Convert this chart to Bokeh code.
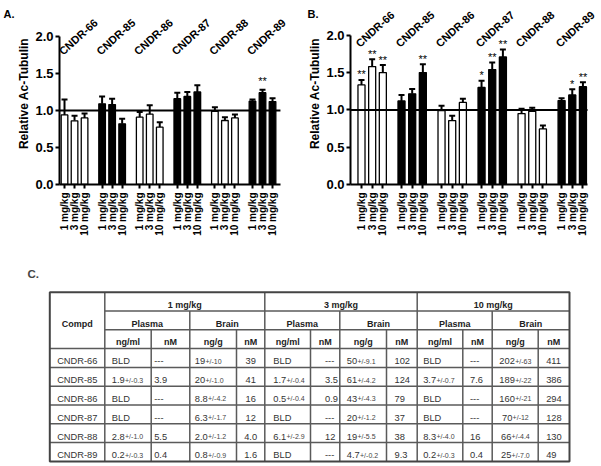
import math
from bokeh.plotting import figure
from bokeh.models import (Range1d, FixedTicker, Label, Whisker, TeeHead,
                          ColumnDataSource, NumeralTickFormatter, LinearAxis)
from bokeh.layouts import column, row
from bokeh.embed import file_html
from bokeh.resources import INLINE
from bokeh.core.properties import value

FONT = "Liberation Sans"

# ---------------- data ----------------
compounds = ["CNDR-66", "CNDR-85", "CNDR-86", "CNDR-87", "CNDR-88", "CNDR-89"]
doses = ["1 mg/kg", "3 mg/kg", "10 mg/kg"]
filled = [False, True, False, True, False, True]
reference_level = 1.0

# Panel A (values per compound x dose)
a_mean = [0.94, 0.86, 0.90, 1.09, 1.08, 0.82, 0.91, 0.95, 0.775,
          1.16, 1.19, 1.25, 0.99, 0.865, 0.90, 1.125, 1.24, 1.12]
a_err = [0.21, 0.07, 0.06, 0.10, 0.08, 0.07, 0.07, 0.12, 0.065,
         0.08, 0.06, 0.09, 0.055, 0.045, 0.045, 0.025, 0.04, 0.045]
a_sig = ["", "", "", "", "", "", "", "", "",
         "", "", "", "", "", "", "", "**", ""]

# Panel B
b_mean = [1.335, 1.58, 1.50, 1.12, 1.215, 1.50, 0.99, 0.856, 1.10,
          1.30, 1.54, 1.71, 0.95, 0.98, 0.745, 1.125, 1.20, 1.31]
b_err = [0.065, 0.10, 0.10, 0.08, 0.065, 0.11, 0.065, 0.065, 0.05,
         0.09, 0.095, 0.10, 0.065, 0.05, 0.045, 0.032, 0.077, 0.06]
b_sig = ["**", "**", "**", "", "", "**", "", "", "",
         "*", "**", "**", "", "", "", "", "*", "**"]

# Table C
dose_groups = ["1 mg/kg", "3 mg/kg", "10 mg/kg"]
tissues = ["Plasma", "Brain"]
units = ["ng/ml", "nM", "ng/g", "nM"]
plasma_1_ngml = ["BLD", "1.9+/-0.3", "BLD", "BLD", "2.8+/-1.0", "0.2+/-0.3"]
plasma_1_nM = ["---", "3.9", "---", "---", "5.5", "0.4"]
brain_1_ngg = ["19+/-10", "20+/-1.0", "8.8+/-4.2", "6.3+/-1.7", "2.0+/-1.2", "0.8+/-0.9"]
brain_1_nM = ["39", "41", "16", "12", "4.0", "1.6"]
plasma_3_ngml = ["BLD", "1.7+/-0.4", "0.5+/-0.4", "BLD", "6.1+/-2.9", "BLD"]
plasma_3_nM = ["---", "3.5", "0.9", "---", "12", "---"]
brain_3_ngg = ["50+/-9.1", "61+/-4.2", "43+/-4.3", "20+/-1.2", "19+/-5.5", "4.7+/-0.2"]
brain_3_nM = ["102", "124", "79", "37", "38", "9.3"]
plasma_10_ngml = ["BLD", "3.7+/-0.7", "BLD", "BLD", "8.3+/-4.0", "0.2+/-0.3"]
plasma_10_nM = ["---", "7.6", "---", "---", "16", "0.4"]
brain_10_ngg = ["202+/-63", "189+/-22", "160+/-21", "70+/-12", "66+/-4.4", "25+/-7.0"]
brain_10_nM = ["411", "386", "294", "128", "130", "49"]


# ---------------- bar panels ----------------
def make_panel(means, errs, sig, letter, width, x_start, x_axis_end, x_end, y_end,
               b_left, b_top, b_bottom, label_y, sig_off, letter_y, letter_standoff):
    height = 258
    n_d = len(doses)
    xs = [g * 3.75 + i for g in range(len(compounds)) for i in range(n_d)]
    fills = ["black" if filled[g] else "white" for g in range(len(compounds)) for i in range(n_d)]
    tops = [m + e for m, e in zip(means, errs)]
    src = ColumnDataSource(dict(x=xs, top=means, err_top=tops, fill=fills))

    p = figure(width=width, height=height, x_range=Range1d(x_start, x_end),
               y_range=Range1d(0, y_end), output_backend="svg", toolbar_location=None,
               min_border_left=b_left, min_border_right=0,
               min_border_top=b_top, min_border_bottom=b_bottom)
    p.grid.visible = False
    p.outline_line_color = None

    # a 1:1 pixel range pair, so rotated texts keep their true screen angle
    fw, fh = width - b_left, height - b_top - b_bottom
    p.extra_x_ranges = {"px": Range1d(0, fw)}
    p.extra_y_ranges = {"px": Range1d(0, fh)}
    kx, ky = fw / (x_end - x_start), fh / y_end

    p.vbar(x="x", top="top", bottom=0, width=0.66, source=src,
           fill_color="fill", line_color="black", line_width=1.3)
    p.add_layout(Whisker(source=src, base="x", lower="top", upper="err_top",
                         dimension="height", line_width=2, line_color="black",
                         upper_head=TeeHead(size=6, line_width=2, line_color="black"),
                         lower_head=None))
    p.segment(x0=[x_start], x1=[x_axis_end], y0=[reference_level], y1=[reference_level],
              line_color="black", line_width=2)

    xa = p.xaxis[0]
    xa.bounds = (x_start, x_axis_end)
    xa.ticker = FixedTicker(ticks=xs)
    xa.major_label_overrides = {x: doses[k % n_d] for k, x in enumerate(xs)}
    xa.major_label_orientation = math.pi / 2
    xa.major_label_text_font = FONT
    xa.major_label_text_font_style = "bold"
    xa.major_label_text_font_size = "10px"
    xa.major_label_text_color = "black"
    xa.major_label_standoff = 4
    xa.major_tick_in = 0
    xa.major_tick_out = 4
    xa.minor_tick_line_color = None
    xa.axis_line_width = 2
    xa.major_tick_line_width = 2

    ya = p.yaxis[0]
    ya.bounds = (0, 2.0)
    ya.ticker = FixedTicker(ticks=[0, 0.5, 1.0, 1.5, 2.0])
    ya.formatter = NumeralTickFormatter(format="0.0")
    ya.major_label_text_font = FONT
    ya.major_label_text_font_style = "bold"
    ya.major_label_text_font_size = "13px"
    ya.major_label_text_color = "black"
    ya.major_label_standoff = 2
    ya.major_tick_in = 0
    ya.major_tick_out = 4
    ya.minor_tick_line_color = None
    ya.axis_line_width = 2
    ya.major_tick_line_width = 2
    ya.axis_label = "Relative Ac-Tubulin"
    ya.axis_label_text_font = FONT
    ya.axis_label_text_font_style = "bold"
    ya.axis_label_text_font_size = "12px"
    ya.axis_label_text_color = "black"
    ya.axis_label_standoff = 1

    la = LinearAxis(ticker=FixedTicker(ticks=[letter_y]),
                    major_label_overrides={letter_y: letter},
                    axis_line_color=None, major_tick_line_color=None,
                    minor_tick_line_color=None, major_tick_in=0, major_tick_out=0,
                    major_label_standoff=letter_standoff,
                    major_label_text_font=FONT, major_label_text_font_style="bold",
                    major_label_text_font_size="11px", major_label_text_color="black")
    p.add_layout(la, "left")

    # compound names, rotated 42 degrees
    name_px = [(xs[g * n_d] - 0.4 - x_start) * kx for g in range(len(compounds))]
    name_py = [label_y * ky] * len(compounds)
    p.text(x=name_px, y=name_py, text=compounds, angle=42, angle_units="deg",
           x_range_name="px", y_range_name="px",
           text_font=value(FONT), text_font_style="bold", text_font_size="11px",
           text_align="left", text_baseline="alphabetic", text_color="black")

    sx = [xs[i] for i, s in enumerate(sig) if s]
    sy = [tops[i] + sig_off for i, s in enumerate(sig) if s]
    st = [s for s in sig if s]
    p.text(x=sx, y=sy, text=st, text_font=value(FONT), text_font_size="11px",
           text_align="center", text_baseline="middle", text_color="black")
    return p


pa = make_panel(a_mean, a_err, a_sig, "A.", 300, -0.5, 21.54, 23.54, 2.459,
                48, 2, 74, 1.78, 0.12, 2.30, 0)
pb = make_panel(b_mean, b_err, b_sig, "B.", 301, -1.03, 21.18, 22.49, 2.439,
                50, 2, 73, 1.87, 0.075, 2.286, -13)

# ---------------- table ----------------
pt = figure(width=601, height=207, x_range=Range1d(0, 601), y_range=Range1d(465, 258),
            output_backend="svg", toolbar_location=None, min_border=0,
            x_axis_type=None, y_axis_type=None)
pt.grid.visible = False
pt.outline_line_color = None

E = [49.3, 104.3, 150.7, 189.3, 236.0, 264.3, 310.0, 339.3, 386.0, 416.7, 462.3, 491.7, 537.7, 569.0]
R = [291.7 + 18.8 * k for k in range(10)]

hx0, hx1, hy = [], [], []
for k in (1, 2):
    hx0.append(E[1]); hx1.append(E[13]); hy.append(R[k])
for k in range(3, 9):
    hx0.append(E[0]); hx1.append(E[13]); hy.append(R[k])
pt.segment(x0=hx0, x1=hx1, y0=hy, y1=hy, line_color="#5a5a5a", line_width=1.5)

vx, vy0 = [], []
for c in (1, 5, 9):
    vx.append(E[c]); vy0.append(R[0])
for c in (3, 7, 11):
    vx.append(E[c]); vy0.append(R[1])
for c in (2, 4, 6, 8, 10, 12):
    vx.append(E[c]); vy0.append(R[2])
pt.segment(x0=vx, x1=vx, y0=vy0, y1=[R[9]] * len(vx), line_color="#5a5a5a", line_width=1.5)
pt.quad(left=[E[0]], right=[E[13]], top=[R[0]], bottom=[R[9]],
        fill_color=None, line_color="#444444", line_width=2)

htx, hty, htt = [], [], []
for gi, dg in enumerate(dose_groups):
    c0 = 1 + 4 * gi
    htx.append((E[c0] + E[c0 + 4]) / 2); hty.append((R[0] + R[1]) / 2); htt.append(dg)
    for ti, t in enumerate(tissues):
        a = c0 + 2 * ti
        htx.append((E[a] + E[a + 2]) / 2); hty.append((R[1] + R[2]) / 2); htt.append(t)
    for ui, u in enumerate(units):
        a = c0 + ui
        htx.append((E[a] + E[a + 1]) / 2); hty.append((R[2] + R[3]) / 2); htt.append(u)
htx.append((E[0] + E[1]) / 2); hty.append((R[0] + R[3]) / 2); htt.append("Compd")
pt.text(x=htx, y=[y + 3.2 for y in hty], text=htt, text_font=value(FONT),
        text_font_style="bold", text_font_size="9px", text_align="center",
        text_baseline="alphabetic", text_color="#222222")

W = {str(d): 0.556 for d in range(10)}
W.update({".": 0.278, "-": 0.333, "+": 0.584, "/": 0.278, "B": 0.667, "L": 0.556,
          "D": 0.722, "C": 0.722, "N": 0.722, "R": 0.722})


def tw(s, size):
    return sum(W.get(ch, 0.556) for ch in s) * size


MAIN, SMALL = 9.3, 7.0
table_cols = [compounds, plasma_1_ngml, plasma_1_nM, brain_1_ngg, brain_1_nM,
              plasma_3_ngml, plasma_3_nM, brain_3_ngg, brain_3_nM,
              plasma_10_ngml, plasma_10_nM, brain_10_ngg, brain_10_nM]
pads = [None, 7.0, 3.0, 5.0, None, 8.5, 14.5, 7.0, 8.0, 6.0, 7.2, None, 8.0]

mx, my, mt, sx, sy, st = [], [], [], [], [], []
for c, colvals in enumerate(table_cols):
    for r, txt in enumerate(colvals):
        if "+/-" in txt:
            main, small = txt.split("+/-")
            small = "+/-" + small
        else:
            main, small = txt, ""
        wmain = tw(main, MAIN)
        total = wmain + tw(small, SMALL)
        if pads[c] is None:
            left = (E[c] + E[c + 1]) / 2 - total / 2
        else:
            left = E[c] + pads[c]
        base = (R[3 + r] + R[4 + r]) / 2 + 3.3
        mx.append(left); my.append(base); mt.append(main)
        if small:
            sx.append(left + wmain + 0.3); sy.append(base); st.append(small)
pt.text(x=mx, y=my, text=mt, text_font=value(FONT), text_font_size=f"{MAIN}px",
        text_align="left", text_baseline="alphabetic", text_color="#333333")
pt.text(x=sx, y=sy, text=st, text_font=value(FONT), text_font_size=f"{SMALL}px",
        text_align="left", text_baseline="alphabetic", text_color="#444444")

pt.add_layout(Label(x=27, y=273, text="C.", text_font=FONT, text_font_style="bold",
                    text_font_size="11.5px", text_align="left", text_baseline="alphabetic"))

layout = column(row(pa, pb), pt)
open("out.html", "w").write(file_html(layout, INLINE))
